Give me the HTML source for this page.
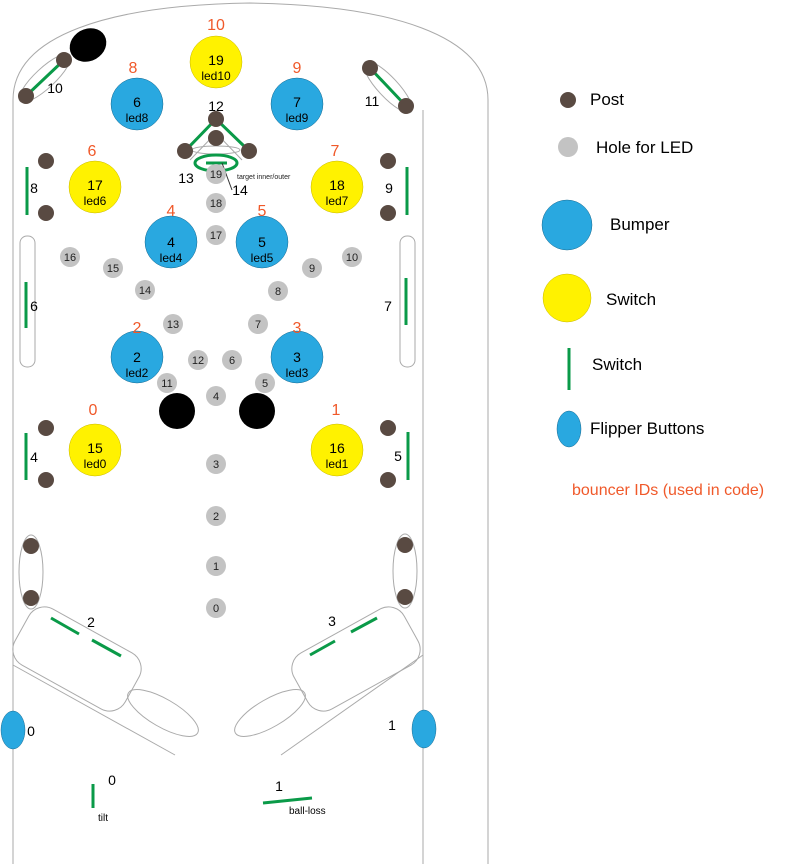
<!DOCTYPE html>
<html><head><style>body{margin:0;background:#fff}svg{display:block}text{font-family:"Liberation Sans",sans-serif}</style></head><body>
<svg width="792" height="864" viewBox="0 0 792 864" xmlns="http://www.w3.org/2000/svg">
<g fill="none" stroke="#aaa" stroke-width="1">
<path d="M13,864 V100 C13,35 110,5 250,3 C390,5 488,35 488,100 V864"/>
<path d="M423,110 V864"/>
<rect x="20" y="236" width="15" height="131" rx="7"/>
<rect x="400" y="236" width="15" height="131" rx="7"/>
<ellipse cx="31" cy="572" rx="12" ry="37"/>
<ellipse cx="405" cy="571" rx="12" ry="37"/>
<ellipse cx="45" cy="78" rx="34" ry="10" transform="rotate(-43 45 78)"/>
<ellipse cx="388" cy="87" rx="34" ry="10" transform="rotate(47 388 87)"/>
<rect x="14" y="627" width="126" height="64" rx="18" transform="rotate(29 77 659)"/>
<rect x="293" y="627" width="126" height="64" rx="18" transform="rotate(-29 356 659)"/>
<ellipse cx="163" cy="713" rx="40" ry="14" transform="rotate(30 163 713)"/>
<ellipse cx="270" cy="713" rx="40" ry="14" transform="rotate(-30 270 713)"/>
<path d="M13,665 L175,755 M423,655 L281,755"/>
<path d="M216,119 L183,151 M216,119 L251,151 M216,133 L190,160 M216,133 L242,160"/>
<ellipse cx="216" cy="150" rx="24" ry="4"/>
</g>
<ellipse cx="88" cy="45" rx="19" ry="16" transform="rotate(-30 88 45)" fill="#000"/>
<circle cx="177" cy="411" r="18" fill="#000"/><circle cx="257" cy="411" r="18" fill="#000"/>
<g stroke="#0a9a48" stroke-width="3" fill="none">
<path d="M26,96 L64,60 M370,68 L406,106 M216,119 L188,148 M216,119 L246,148 M206,163 H227"/>
<ellipse cx="216" cy="163" rx="21" ry="8"/>
<path d="M27,167 V215 M407,167 V215 M26,282 V328 M406,278 V325 M26,433 V480 M408,432 V480"/>
<path d="M51,618 L79,634 M92,640 L121,656 M310,655 L335,641 M351,632 L377,618 M93,784 V808 M263,803 L312,798 M569,348 V390"/>
</g>
<path d="M222,163 L232,190" stroke="#333" stroke-width="1"/>
<g fill="#594a42">
<circle cx="46" cy="161" r="8"/><circle cx="46" cy="213" r="8"/><circle cx="388" cy="161" r="8"/><circle cx="388" cy="213" r="8"/>
<circle cx="46" cy="428" r="8"/><circle cx="46" cy="480" r="8"/><circle cx="388" cy="428" r="8"/><circle cx="388" cy="480" r="8"/>
<circle cx="31" cy="546" r="8"/><circle cx="31" cy="598" r="8"/><circle cx="405" cy="545" r="8"/><circle cx="405" cy="597" r="8"/>
<circle cx="26" cy="96" r="8"/><circle cx="64" cy="60" r="8"/><circle cx="370" cy="68" r="8"/><circle cx="406" cy="106" r="8"/>
<circle cx="216" cy="119" r="8"/><circle cx="216" cy="138" r="8"/><circle cx="185" cy="151" r="8"/><circle cx="249" cy="151" r="8"/>
<circle cx="568" cy="100" r="8"/>
</g>
<g fill="#29a8e0" stroke="#1a6a90" stroke-width="0.5">
<circle cx="137" cy="104" r="26"/><circle cx="297" cy="104" r="26"/><circle cx="171" cy="242" r="26"/><circle cx="262" cy="242" r="26"/>
<circle cx="137" cy="357" r="26"/><circle cx="297" cy="357" r="26"/><circle cx="567" cy="225" r="25"/>
<ellipse cx="13" cy="730" rx="12" ry="19"/><ellipse cx="424" cy="729" rx="12" ry="19"/><ellipse cx="569" cy="429" rx="12" ry="18"/>
</g>
<g fill="#fff200" stroke="#c8b800" stroke-width="0.5">
<circle cx="216" cy="62" r="26"/><circle cx="95" cy="187" r="26"/><circle cx="337" cy="187" r="26"/>
<circle cx="95" cy="450" r="26"/><circle cx="337" cy="450" r="26"/><circle cx="567" cy="298" r="24"/>
</g>
<g fill="#c3c3c3">
<circle cx="216" cy="174" r="10"/><circle cx="216" cy="203" r="10"/><circle cx="216" cy="235" r="10"/>
<circle cx="70" cy="257" r="10"/><circle cx="113" cy="268" r="10"/><circle cx="145" cy="290" r="10"/><circle cx="173" cy="324" r="10"/>
<circle cx="198" cy="360" r="10"/><circle cx="167" cy="383" r="10"/><circle cx="232" cy="360" r="10"/><circle cx="265" cy="383" r="10"/>
<circle cx="258" cy="324" r="10"/><circle cx="278" cy="291" r="10"/><circle cx="312" cy="268" r="10"/><circle cx="352" cy="257" r="10"/>
<circle cx="216" cy="396" r="10"/><circle cx="216" cy="464" r="10"/><circle cx="216" cy="516" r="10"/><circle cx="216" cy="566" r="10"/><circle cx="216" cy="608" r="10"/>
<circle cx="568" cy="147" r="10"/>
</g>
<g font-size="11" text-anchor="middle" fill="#222">
<text x="216" y="178">19</text><text x="216" y="207">18</text><text x="216" y="239">17</text>
<text x="70" y="261">16</text><text x="113" y="272">15</text><text x="145" y="294">14</text><text x="173" y="328">13</text>
<text x="198" y="364">12</text><text x="167" y="387">11</text><text x="232" y="364">6</text><text x="265" y="387">5</text>
<text x="258" y="328">7</text><text x="278" y="295">8</text><text x="312" y="272">9</text><text x="352" y="261">10</text>
<text x="216" y="400">4</text><text x="216" y="468">3</text><text x="216" y="520">2</text><text x="216" y="570">1</text><text x="216" y="612">0</text>
</g>
<g font-size="14" text-anchor="middle" fill="#000">
<text x="216" y="65">19</text><text x="216" y="80" font-size="12">led10</text>
<text x="137" y="107">6</text><text x="137" y="122" font-size="12">led8</text>
<text x="297" y="107">7</text><text x="297" y="122" font-size="12">led9</text>
<text x="95" y="190">17</text><text x="95" y="205" font-size="12">led6</text>
<text x="337" y="190">18</text><text x="337" y="205" font-size="12">led7</text>
<text x="171" y="247">4</text><text x="171" y="262" font-size="12">led4</text>
<text x="262" y="247">5</text><text x="262" y="262" font-size="12">led5</text>
<text x="137" y="362">2</text><text x="137" y="377" font-size="12">led2</text>
<text x="297" y="362">3</text><text x="297" y="377" font-size="12">led3</text>
<text x="95" y="453">15</text><text x="95" y="468" font-size="12">led0</text>
<text x="337" y="453">16</text><text x="337" y="468" font-size="12">led1</text>
<text x="55" y="93">10</text><text x="372" y="106">11</text><text x="216" y="111">12</text><text x="186" y="183">13</text><text x="240" y="195">14</text>
<text x="34" y="193">8</text><text x="389" y="193">9</text><text x="34" y="311">6</text><text x="388" y="311">7</text>
<text x="34" y="462">4</text><text x="398" y="461">5</text><text x="91" y="627">2</text><text x="332" y="626">3</text>
<text x="31" y="736">0</text><text x="392" y="730">1</text><text x="112" y="785">0</text><text x="279" y="791">1</text>
</g>
<text x="237" y="179" font-size="7" fill="#222">target inner/outer</text>
<text x="98" y="821" font-size="10">tilt</text><text x="289" y="814" font-size="10">ball-loss</text>
<g font-size="16" text-anchor="middle" fill="#f0592a">
<text x="216" y="30">10</text><text x="133" y="73">8</text><text x="297" y="73">9</text><text x="92" y="156">6</text><text x="335" y="156">7</text>
<text x="171" y="216">4</text><text x="262" y="216">5</text><text x="137" y="333">2</text><text x="297" y="333">3</text><text x="93" y="415">0</text><text x="336" y="415">1</text>
</g>
<g font-size="17" fill="#000">
<text x="590" y="105">Post</text><text x="596" y="153">Hole for LED</text><text x="610" y="230">Bumper</text>
<text x="606" y="305">Switch</text><text x="592" y="370">Switch</text><text x="590" y="434">Flipper Buttons</text>
</g>
<text x="572" y="495" font-size="16" fill="#f0592a">bouncer IDs (used in code)</text>
</svg>
</body></html>
